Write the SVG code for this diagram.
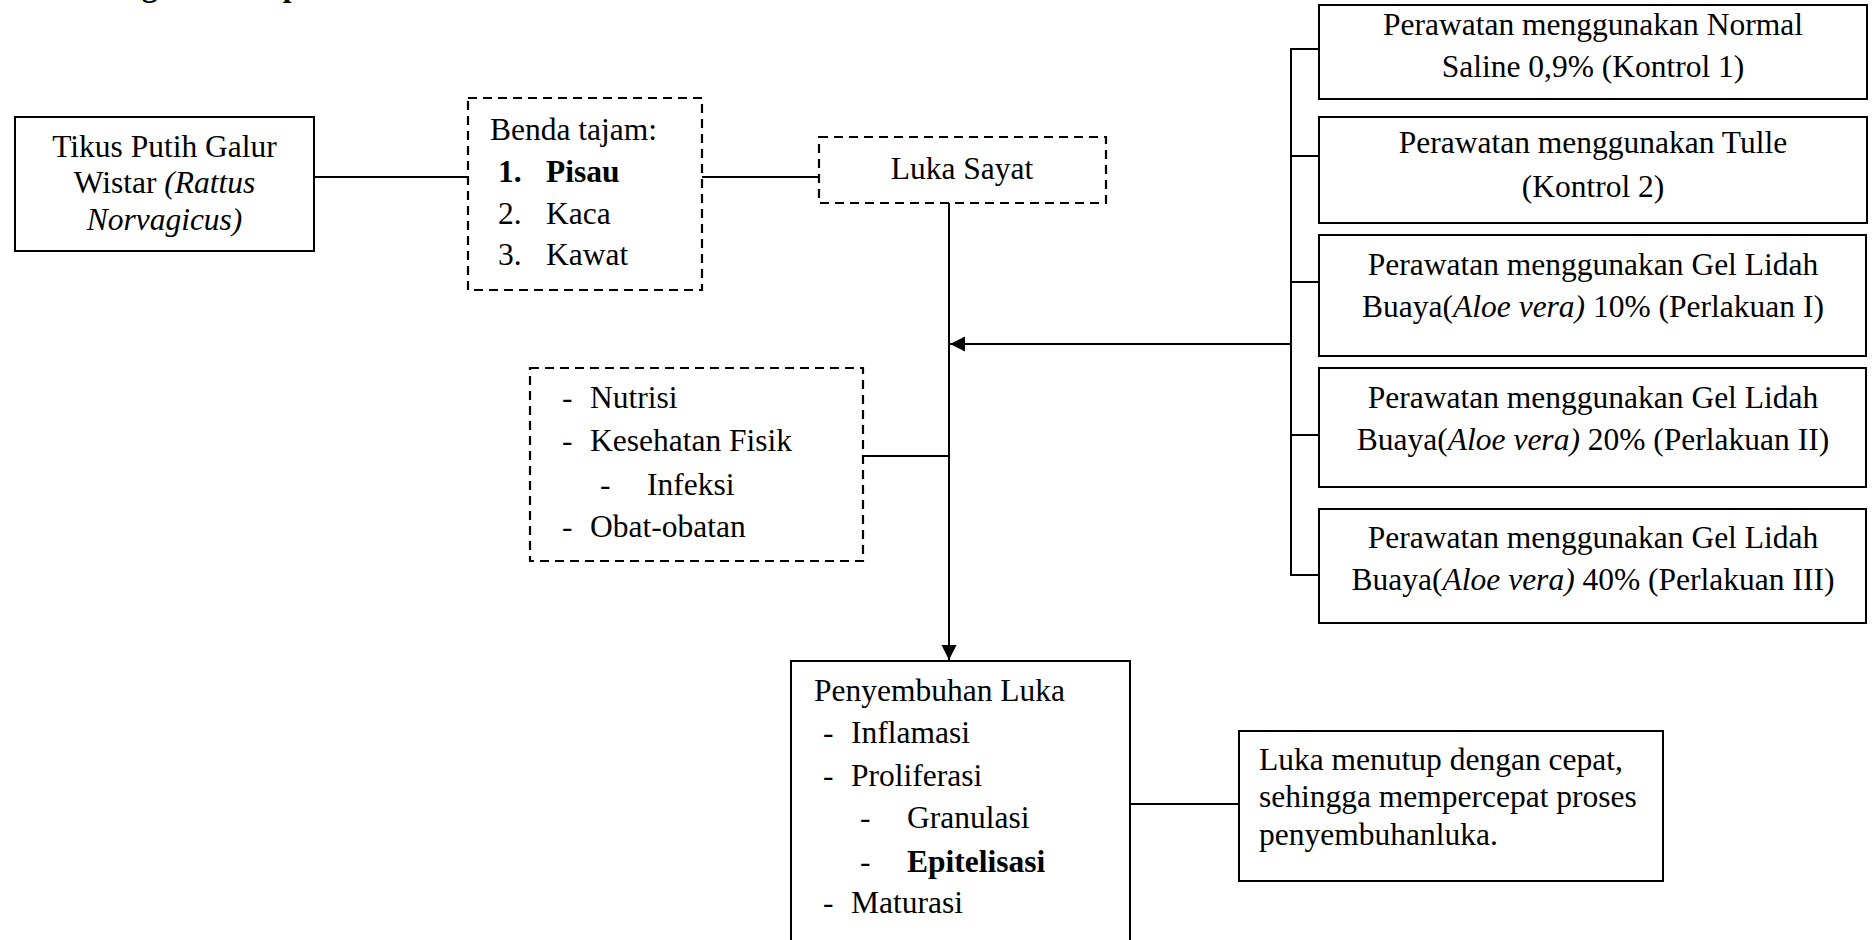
<svg xmlns="http://www.w3.org/2000/svg" width="1874" height="940" viewBox="0 0 1874 940">
<style>
text{font-family:"Liberation Serif","Times New Roman",serif;font-size:31.5px;fill:#000}
.b{font-weight:bold}
.i{font-style:italic}
.box{fill:#fff;stroke:#000;stroke-width:2}
.dash{fill:#fff;stroke:#000;stroke-width:2.2;stroke-dasharray:9 6}
.ln{fill:none;stroke:#000;stroke-width:2}
.c{text-anchor:middle}
</style>
<defs>
<marker id="ah" markerUnits="userSpaceOnUse" markerWidth="16" markerHeight="16" refX="15" refY="7.5" orient="auto">
<path d="M0,0 L15,7.5 L0,15 z" fill="#000"/>
</marker>
</defs>
<rect width="1874" height="940" fill="#fff"/>
<text class="b" x="56" y="-4">Kerangka Konsep</text>
<g id="connectors">
<line class="ln" x1="314" y1="177" x2="468" y2="177"/>
<line class="ln" x1="702" y1="177" x2="819" y2="177"/>
<line class="ln" x1="949" y1="203" x2="949" y2="660" marker-end="url(#ah)"/>
<line class="ln" x1="1291" y1="344" x2="950" y2="344" marker-end="url(#ah)"/>
<line class="ln" x1="863" y1="456" x2="949" y2="456"/>
<line class="ln" x1="1291" y1="49" x2="1291" y2="575"/>
<line class="ln" x1="1290" y1="49" x2="1319" y2="49"/>
<line class="ln" x1="1290" y1="156" x2="1319" y2="156"/>
<line class="ln" x1="1290" y1="282" x2="1319" y2="282"/>
<line class="ln" x1="1290" y1="435" x2="1319" y2="435"/>
<line class="ln" x1="1290" y1="575" x2="1319" y2="575"/>
<line class="ln" x1="1130" y1="804" x2="1239" y2="804"/>
</g>
<g id="tikus">
<rect class="box" x="15" y="117" width="299" height="134"/>
<text class="c"><tspan x="164.5" y="157">Tikus Putih Galur</tspan><tspan x="164.5" y="193">Wistar <tspan class="i">(Rattus</tspan></tspan><tspan x="164.5" y="230" class="i">Norvagicus)</tspan></text>
</g>
<g id="benda">
<rect class="dash" x="468" y="98" width="234" height="192"/>
<text x="490" y="140">Benda tajam:</text>
<text class="b" x="498" y="182">1.</text><text class="b" x="546" y="182">Pisau</text>
<text x="498" y="224">2.</text><text x="546" y="224">Kaca</text>
<text x="498" y="265">3.</text><text x="546" y="265">Kawat</text>
</g>
<g id="luka-sayat">
<rect class="dash" x="819" y="137" width="287" height="66"/>
<text class="c" x="962" y="179">Luka Sayat</text>
</g>
<g id="faktor">
<rect class="dash" x="530" y="368" width="333" height="193"/>
<text x="562" y="408">-</text><text x="590" y="408">Nutrisi</text>
<text x="562" y="451">-</text><text x="590" y="451">Kesehatan Fisik</text>
<text x="600" y="495">-</text><text x="647" y="495">Infeksi</text>
<text x="562" y="537">-</text><text x="590" y="537">Obat-obatan</text>
</g>
<g id="kontrol1">
<rect class="box" x="1319" y="5" width="548" height="94"/>
<text class="c"><tspan x="1593" y="35">Perawatan menggunakan Normal</tspan><tspan x="1593" y="77">Saline 0,9% (Kontrol 1)</tspan></text>
</g>
<g id="kontrol2">
<rect class="box" x="1319" y="117" width="548" height="106"/>
<text class="c"><tspan x="1593" y="153">Perawatan menggunakan Tulle</tspan><tspan x="1593" y="197">(Kontrol 2)</tspan></text>
</g>
<g id="perlakuan1">
<rect class="box" x="1319" y="235" width="547" height="121"/>
<text class="c"><tspan x="1593" y="275">Perawatan menggunakan Gel Lidah</tspan><tspan x="1593" y="317">Buaya(<tspan class="i">Aloe vera)</tspan> 10% (Perlakuan I)</tspan></text>
</g>
<g id="perlakuan2">
<rect class="box" x="1319" y="368" width="547" height="119"/>
<text class="c"><tspan x="1593" y="408">Perawatan menggunakan Gel Lidah</tspan><tspan x="1593" y="450">Buaya(<tspan class="i">Aloe vera)</tspan> 20% (Perlakuan II)</tspan></text>
</g>
<g id="perlakuan3">
<rect class="box" x="1319" y="509" width="547" height="114"/>
<text class="c"><tspan x="1593" y="548">Perawatan menggunakan Gel Lidah</tspan><tspan x="1593" y="590">Buaya(<tspan class="i">Aloe vera)</tspan> 40% (Perlakuan III)</tspan></text>
</g>
<g id="penyembuhan">
<rect class="box" x="791" y="661" width="339" height="300"/>
<text x="814" y="701">Penyembuhan Luka</text>
<text x="823" y="743">-</text><text x="851" y="743">Inflamasi</text>
<text x="823" y="786">-</text><text x="851" y="786">Proliferasi</text>
<text x="860" y="828">-</text><text x="907" y="828">Granulasi</text>
<text x="860" y="872">-</text><text class="b" x="907" y="872">Epitelisasi</text>
<text x="823" y="913">-</text><text x="851" y="913">Maturasi</text>
</g>
<g id="hasil">
<rect class="box" x="1239" y="731" width="424" height="150"/>
<text x="1259" y="770">Luka menutup dengan cepat,</text>
<text x="1259" y="807">sehingga mempercepat proses</text>
<text x="1259" y="845">penyembuhanluka.</text>
</g>
</svg>
